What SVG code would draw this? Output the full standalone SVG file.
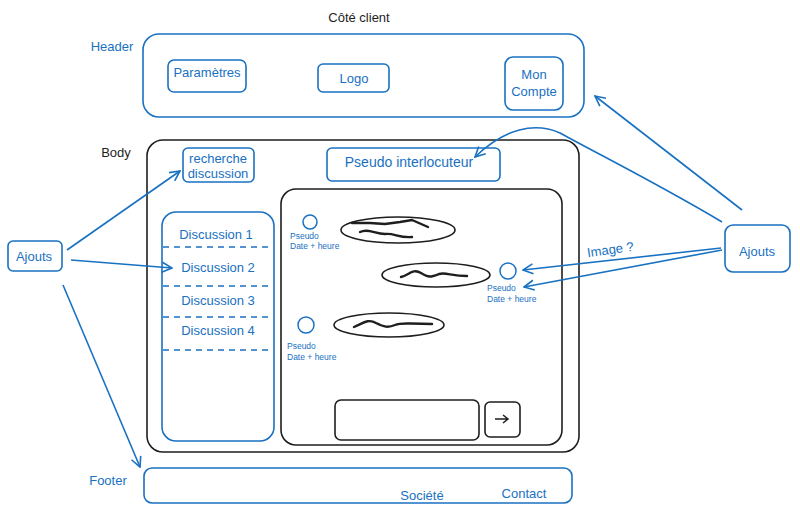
<svg xmlns="http://www.w3.org/2000/svg" width="800" height="519" viewBox="0 0 800 519">
<defs>
<style>
.b{fill:none;stroke:#1971c2;stroke-width:1.6}
.k{fill:none;stroke:#1e1e1e;stroke-width:1.6}
.sc{fill:none;stroke:#1e1e1e;stroke-width:2.4;stroke-linecap:round;stroke-linejoin:round}
.tb{font-family:"Liberation Sans",Arial,sans-serif;font-size:13px;fill:#1971c2;text-anchor:middle}
.tk{font-family:"Liberation Sans",Arial,sans-serif;font-size:13px;fill:#1e1e1e;text-anchor:middle}
.ts{font-family:"Liberation Sans",Arial,sans-serif;font-size:8.5px;fill:#1971c2}
.c{fill:none;stroke:#1971c2;stroke-width:1.5}
.dash{stroke:#1971c2;stroke-width:1.5;stroke-dasharray:6 5}
</style>
<marker id="ah" viewBox="0 0 12 12" refX="11" refY="6" markerWidth="12" markerHeight="12" markerUnits="userSpaceOnUse" orient="auto">
<path d="M1,1 L11,6 L1,11" fill="none" stroke="#1971c2" stroke-width="1.6"/>
</marker>
</defs>
<rect width="800" height="519" fill="#ffffff"/>

<text class="tk" x="359" y="22">Côté client</text>

<g id="header">
<text class="tb" x="112" y="51">Header</text>
<rect class="b" x="143" y="34" width="441" height="83" rx="16"/>
</g>
<g id="parametres">
<rect class="b" x="168" y="60" width="78" height="32" rx="6"/>
<text class="tb" x="207" y="77">Paramètres</text>
</g>
<g id="logo">
<rect class="b" x="318" y="64" width="71" height="28" rx="5"/>
<text class="tb" x="354" y="83">Logo</text>
</g>
<g id="moncompte">
<rect class="b" x="505" y="57" width="58" height="53" rx="8"/>
<text class="tb" x="534" y="79">Mon</text>
<text class="tb" x="534" y="96">Compte</text>
</g>

<g id="body">
<text class="tk" x="116" y="157">Body</text>
<rect class="k" x="147" y="140" width="432" height="312" rx="16"/>
</g>
<g id="recherche">
<rect class="b" x="183" y="148" width="71" height="34" rx="5"/>
<text class="tb" x="218" y="163">recherche</text>
<text class="tb" x="218" y="178">discussion</text>
</g>
<g id="pseudo-interlocuteur">
<rect class="b" x="327" y="148" width="173" height="33" rx="5"/>
<text class="tb" x="409" y="167" style="font-size:14px">Pseudo interlocuteur</text>
</g>
<g id="discussions">
<rect class="b" x="162" y="212" width="112" height="229" rx="14"/>
<line class="dash" x1="163" y1="247" x2="273" y2="247"/>
<line class="dash" x1="163" y1="286" x2="273" y2="286"/>
<line class="dash" x1="163" y1="317" x2="273" y2="317"/>
<line class="dash" x1="163" y1="350" x2="273" y2="350"/>
<text class="tb" x="216" y="239">Discussion 1</text>
<text class="tb" x="218" y="272">Discussion 2</text>
<text class="tb" x="218" y="305">Discussion 3</text>
<text class="tb" x="218" y="335">Discussion 4</text>
</g>
<g id="chat">
<rect class="k" x="281" y="189" width="281" height="256" rx="15"/>
<circle class="c" cx="310" cy="222" r="7"/>
<text class="ts" x="290" y="239">Pseudo</text>
<text class="ts" x="290" y="249">Date + heure</text>
<ellipse class="k" cx="398" cy="230" rx="57" ry="13"/>
<path class="sc" d="M352,223 L370,223 L385,224 L400,222 L412,220 L428,227" stroke-width="1.8"/>
<path class="sc" d="M360,232 C368,228 375,234 385,234 C395,233 398,238 412,237"/>
<ellipse class="k" cx="436" cy="275" rx="54" ry="12"/>
<path class="sc" d="M401,277 C409,275 413,268 421,273 C429,278 431,277 439,274 C446,272 451,276 467,276"/>
<circle class="c" cx="508" cy="271" r="8"/>
<text class="ts" x="487" y="291">Pseudo</text>
<text class="ts" x="487" y="302">Date + heure</text>
<circle class="c" cx="306" cy="325" r="8"/>
<text class="ts" x="287" y="349">Pseudo</text>
<text class="ts" x="287" y="360">Date + heure</text>
<ellipse class="k" cx="389" cy="325" rx="55" ry="12"/>
<path class="sc" d="M354,327 C362,324 368,318 376,323 C384,327 388,328 395,325 C402,322 405,324 432,324"/>
</g>
<g id="input">
<rect class="k" x="335" y="400" width="144" height="40" rx="6"/>
</g>
<g id="send">
<rect class="k" x="485" y="402" width="35" height="35" rx="5"/>
<path d="M495,419 L508,419 M503,415 L508,419 L503,423" fill="none" stroke="#1e1e1e" stroke-width="1.5"/>
</g>

<g id="footer">
<text class="tb" x="108" y="485">Footer</text>
<rect class="b" x="144" y="468" width="428" height="35" rx="8"/>
<text class="tb" x="422" y="500">Société</text>
<text class="tb" x="524" y="498">Contact</text>
</g>

<g id="ajouts-left">
<rect class="b" x="8" y="241" width="54" height="30" rx="5"/>
<text class="tb" x="34" y="261">Ajouts</text>
</g>
<g id="ajouts-right">
<rect class="b" x="725" y="225" width="65" height="47" rx="8"/>
<text class="tb" x="757" y="256">Ajouts</text>
</g>

<g id="connectors">
<path class="b" d="M67,250 L180,171" marker-end="url(#ah)"/>
<path class="b" d="M71,260 L172,268" marker-end="url(#ah)"/>
<path class="b" d="M63,285 L140,467" marker-end="url(#ah)"/>
<path class="b" d="M742,210 L595,96" marker-end="url(#ah)"/>
<path class="b" d="M722,222 C660,185 600,155 560,133 C535,122 505,128 475,157" marker-end="url(#ah)"/>
<path class="b" d="M721,248 L523,270" marker-end="url(#ah)"/>
<path class="b" d="M722,250 L524,287" marker-end="url(#ah)"/>
<text class="tb" x="611" y="254" transform="rotate(-8 611 254)">Image ?</text>
</g>
</svg>
